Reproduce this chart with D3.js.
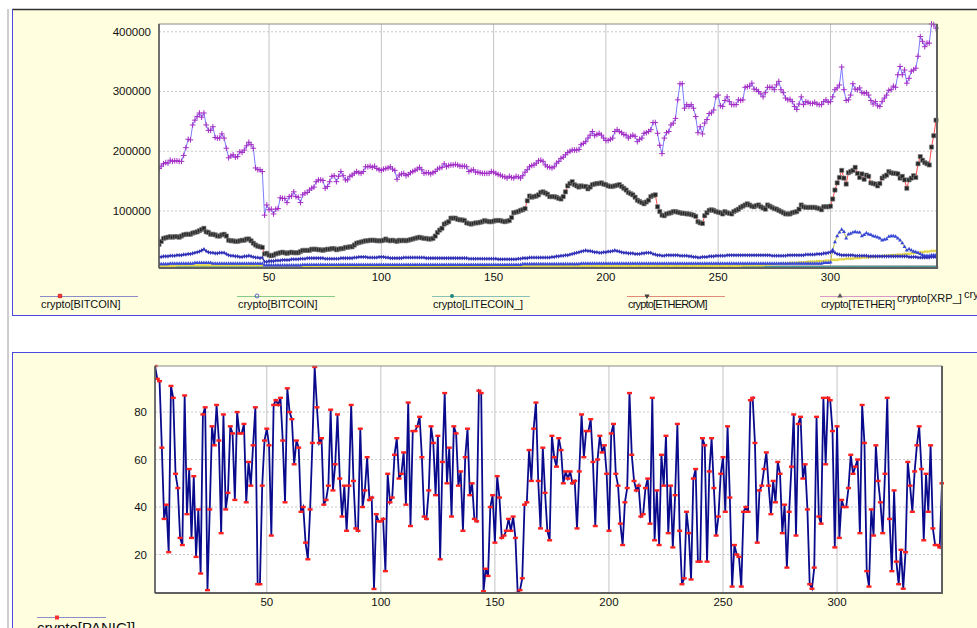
<!DOCTYPE html>
<html>
<head>
<meta charset="utf-8">
<script src="https://cdn.jsdelivr.net/npm/d3@7"></script>
<style>
  body { margin: 0; background: #ffffff; }
  svg { display: block; font-family: "Liberation Sans", Arial, sans-serif; }
</style>
</head>
<body>
<svg id="chart" width="977" height="628"></svg>
<script>
// ---- tick labels -------------------------------------------------------
const xTicks = [50, 100, 150, 200, 250, 300];
const priceTicks = [100000, 200000, 300000, 400000];
const panicTicks = [20, 40, 60, 80];

// ---- legend entries ----------------------------------------------------
const priceLegend = ["crypto[BITCOIN]", "crypto[BITCOIN]", "crypto[LITECOIN_]", "crypto[ETHEROM]", "crypto[TETHER]"];
const priceLegendExtra = ["crypto[XRP_]", "crypto[XRP_]"];
const panicLegend = "crypto[PANIC]]";

// ---- price series (thousands) -----------------------------------------
const bitcoinHigh = [
  171,175,179,181,180,185,183,184,184,183, 183,193,206,220,219,244,252,258,264,257,
  264,244,235,235,241,223,222,222,229,222, 205,189,192,194,190,191,199,198,202,209,
  215,211,205,172,169,169,166,93,110,102, 103,95,103,104,122,121,121,114,124,125,
  132,124,123,114,127,130,131,135,138,140, 149,152,152,151,138,141,149,158,159,149,
  158,166,159,152,152,158,160,163,166,164, 163,166,174,174,175,173,175,171,169,168,
  170,171,172,174,170,168,153,160,162,163, 159,161,164,166,168,170,173,169,163,164,
  164,162,164,166,170,172,173,179,174,176, 177,177,178,177,175,175,175,174,166,168,
  169,165,165,164,163,163,163,163,166,165, 163,161,160,158,157,155,158,156,155,158,
  157,155,159,165,169,174,176,177,180,184, 185,183,177,174,173,172,174,180,183,188,
  190,194,198,200,202,202,202,203,211,213, 216,222,227,233,226,228,230,227,222,218,
  218,220,222,233,236,233,231,228,227,222, 225,227,225,216,220,222,230,231,233,236,
  248,248,230,210,196,222,231,233,244,247, 255,286,313,313,272,278,275,278,272,258,
  231,241,229,247,253,263,264,269,291,294, 276,275,285,291,283,278,278,278,286,285,
  286,307,308,309,314,304,303,300,296,291, 298,307,307,307,303,311,317,303,298,289,
  286,287,283,275,270,279,291,278,283,282, 280,280,282,279,278,278,283,286,282,283,
  291,303,306,311,341,303,285,286,294,313, 304,303,306,298,297,298,294,285,279,283,
  276,275,283,289,294,302,303,309,307,328, 342,328,336,314,322,334,336,339,359,392,
  384,375,381,381,413,412,406
];
const bitcoinLow = [
  44,49,54,55,56,57,56,57,57,56, 58,60,61,61,61,63,64,65,67,69,
  71,65,64,61,61,60,58,58,60,61, 58,51,50,50,49,49,50,51,51,53,
  53,50,46,43,41,40,39,28,29,26, 25,26,28,29,30,31,30,29,30,31,
  30,30,30,32,34,34,34,34,36,36, 36,35,35,34,35,36,36,37,37,35,
  36,37,37,39,39,40,40,43,46,47, 48,49,50,50,51,51,51,50,50,50,
  51,53,51,50,51,50,49,51,50,51, 50,51,52,53,54,55,56,55,54,54,
  53,53,54,58,64,68,71,78,80,82, 88,88,88,86,85,85,84,80,79,78,
  79,80,80,81,82,84,83,82,82,83, 84,84,84,83,82,83,84,89,97,98,
  99,101,102,104,117,125,123,124,125,127, 131,132,130,128,124,124,124,123,121,120,
  124,132,142,146,149,144,142,140,142,141, 141,137,140,144,145,146,146,147,145,144,
  142,141,141,142,143,144,141,138,135,131, 129,127,123,118,116,114,112,115,118,124,
  126,127,107,99,93,92,95,96,97,99, 99,98,97,96,96,95,95,94,93,91,
  82,80,79,92,97,101,102,101,99,98, 97,95,99,97,96,95,99,101,103,106,
  108,110,112,110,108,107,109,110,107,105, 103,110,108,106,104,103,101,99,97,95,
  95,95,97,98,99,103,110,107,106,106, 106,106,106,105,104,102,107,107,107,108,
  120,135,147,156,168,155,145,164,166,168, 173,163,156,162,153,160,158,147,146,145,
  142,146,155,158,160,166,164,163,163,162, 155,158,152,138,152,155,159,156,179,191,
  185,181,179,177,207,226,252
];
const litecoin = [
  23,23,24,24,24,25,25,25,26,26, 26,27,27,28,28,29,30,31,32,34,
  36,33,31,30,30,29,29,30,30,30, 28,26,25,25,24,24,23,23,24,24,
  25,24,23,22,22,21,22,15,15,16, 16,16,17,17,17,18,18,18,18,19,
  19,19,19,20,20,20,21,21,21,21, 21,21,21,21,20,20,20,20,20,20,
  20,21,21,21,21,21,21,22,22,23, 23,23,23,22,22,22,22,22,23,23,
  23,22,22,21,21,21,21,21,21,22, 22,22,22,22,22,22,22,22,22,21,
  21,21,21,21,21,21,21,21,21,21, 21,21,21,21,21,21,21,21,20,20,
  20,20,20,20,20,20,20,20,20,20, 20,19,19,19,19,19,19,19,19,19,
  20,20,21,21,21,22,22,22,22,22, 22,22,22,22,22,23,23,24,24,25,
  25,26,26,27,28,29,30,31,32,33, 34,33,33,32,31,31,30,30,31,31,
  32,32,33,34,33,32,31,30,30,29, 29,29,28,28,28,29,29,30,30,30,
  28,27,26,26,25,25,26,26,26,26, 26,26,25,25,25,25,24,24,23,23,
  22,22,23,23,23,24,24,24,25,25, 25,25,25,26,26,26,26,26,26,26,
  26,26,26,26,26,26,26,26,26,26, 26,26,26,25,25,25,25,25,25,25,
  26,26,26,26,26,26,26,26,27,27, 27,27,27,28,28,28,29,29,30,31,
  32,30,28,27,26,26,26,26,26,26, 25,25,25,25,25,25,24,24,24,24,
  24,24,24,24,24,24,24,24,24,24, 24,24,24,24,23,23,23,23,22,22,
  22,22,22,22,23,23,23
];
const tether = [
  11,11,11,11,11,12,12,12,12,12, 12,12,12,12,12,12,13,13,13,13,
  13,13,13,13,12,12,12,12,12,12, 12,12,12,12,12,12,12,12,12,12,
  12,12,12,12,12,12,12,9,9,9, 9,9,9,9,9,9,9,9,9,9,
  9,9,9,9,10,10,10,10,10,10, 10,10,10,10,10,10,10,10,10,10,
  10,10,10,10,10,10,10,10,10,10, 10,10,10,10,10,10,10,10,10,10,
  10,10,10,10,10,10,10,10,10,10, 10,10,10,10,10,10,10,10,10,10,
  10,10,10,10,10,10,10,10,10,10, 10,10,10,10,10,10,10,10,10,10,
  10,10,10,10,10,10,10,10,10,10, 10,10,10,10,10,10,10,10,10,10,
  10,10,11,11,11,11,11,11,11,11, 11,11,11,11,11,11,11,11,11,11,
  11,11,11,11,11,11,11,11,12,12, 12,12,12,12,12,12,12,12,12,12,
  12,12,12,12,12,12,12,12,12,12, 12,12,12,12,12,12,12,12,12,12,
  12,12,12,12,12,12,12,12,12,12, 12,12,12,12,12,12,12,12,12,12,
  12,12,12,12,12,12,12,12,12,12, 12,12,12,12,12,12,12,12,12,12,
  12,12,12,12,12,12,12,12,12,12, 12,12,12,12,12,12,12,12,12,12,
  12,12,12,12,12,12,12,12,12,12, 12,12,12,12,12,12,13,13,13,14,
  35,48,58,64,69,65,54,61,62,64, 65,64,64,58,60,63,61,60,58,57,
  56,54,51,52,53,57,58,58,57,54, 51,46,40,34,36,34,32,31,30,28,
  26,25,25,25,26,26,26
];
const xrp = [
  8,8,8,8,8,8,8,8,9,9, 9,9,9,9,9,9,9,9,9,9,
  9,9,9,9,9,9,9,9,9,9, 9,9,9,9,9,9,9,9,9,9,
  9,9,9,9,9,9,9,7,7,7, 7,7,7,7,7,7,7,7,7,7,
  7,7,7,7,7,7,7,7,7,7, 7,7,7,7,7,7,7,7,7,7,
  7,7,7,7,7,7,7,7,7,7, 7,7,7,7,7,7,7,7,7,7,
  7,7,7,7,7,7,7,7,7,7, 7,7,7,7,7,7,7,7,7,7,
  7,7,7,7,7,7,7,7,7,7, 7,7,7,7,7,7,7,7,7,7,
  7,7,7,7,7,7,7,7,7,7, 7,7,7,7,7,7,7,7,7,7,
  7,7,7,7,7,7,7,7,7,7, 7,7,7,7,7,7,7,7,8,8,
  8,8,8,8,8,8,8,8,8,8, 8,8,8,8,8,8,8,8,8,8,
  8,8,8,8,8,8,8,8,8,8, 8,8,8,8,8,8,8,8,8,8,
  8,8,8,8,8,8,8,8,8,8, 8,8,8,8,8,8,8,8,8,8,
  8,8,8,8,8,8,8,8,8,8, 8,8,8,8,8,8,8,8,8,8,
  9,9,9,9,9,9,9,9,9,9, 10,10,10,11,11,11,11,12,12,12,
  12,13,13,13,13,14,14,14,14,15, 15,15,15,16,16,16,16,17,17,17,
  18,18,18,19,19,19,20,20,20,20, 21,21,21,22,22,22,22,23,23,23,
  24,24,24,25,25,25,26,26,26,27, 27,27,28,28,28,29,29,30,30,31,
  31,32,32,32,33,33,33
];
const etherom = [
  6,6,6,6,6,6,6,6,6,6, 6,6,6,6,6,6,6,6,6,6,
  6,6,6,6,6,6,6,6,6,6, 6,6,6,6,6,6,6,6,6,6,
  6,6,6,6,6,6,6,6,6,6, 6,6,6,6,6,6,6,6,6,6,
  6,6,6,6,6,6,6,6,6,6, 6,6,6,6,6,6,6,6,6,6,
  6,6,6,6,6,6,6,6,6,6, 6,6,6,6,6,6,6,6,6,6,
  6,6,6,6,6,6,6,6,6,6, 6,6,6,6,6,6,6,6,6,6,
  6,6,6,6,6,6,6,6,6,6, 6,6,6,6,6,6,6,6,6,6,
  6,6,6,6,6,6,6,6,6,6, 6,6,6,6,6,6,6,6,6,6,
  6,6,6,6,6,6,6,6,6,6, 6,6,6,6,6,6,6,6,6,6,
  6,6,6,6,6,6,6,6,6,6, 6,6,6,6,6,6,6,6,6,6,
  6,6,6,6,6,6,6,6,6,6, 6,6,6,6,6,6,6,6,6,6,
  6,6,6,6,6,6,6,6,6,6, 6,6,6,6,6,6,6,6,6,6,
  6,6,6,6,6,6,6,6,6,6, 6,6,6,6,6,6,6,6,6,6,
  6,6,6,6,6,6,6,6,6,6, 6,6,6,6,6,6,6,6,6,6,
  6,6,6,6,6,6,6,6,6,6, 6,6,6,6,6,6,6,6,6,6,
  6,6,6,6,6,6,6,6,6,6, 6,6,6,6,6,6,6,6,6,6,
  6,6,6,6,6,6,6,6,6,6, 6,6,6,6,6,6,6,6,6,6,
  6,6,6,6,6,6,6
];
const panicPrice = [
  5,5,5,5,5,5,5,5,5,5, 5,5,5,5,5,5,5,5,5,5,
  5,5,5,5,5,5,5,5,5,5, 5,5,5,5,5,5,5,5,5,5,
  5,5,5,5,5,5,5,5,5,5, 5,5,5,5,5,5,5,5,5,5,
  5,5,5,5,5,5,5,5,5,5, 5,5,5,5,5,5,5,5,5,5,
  5,5,5,5,5,5,5,5,5,5, 5,5,5,5,5,5,5,5,5,5,
  5,5,5,5,5,5,5,5,5,5, 5,5,5,5,5,5,5,5,5,5,
  5,5,5,5,5,5,5,5,5,5, 5,5,5,5,5,5,5,5,5,5,
  5,5,5,5,5,5,5,5,5,5, 5,5,5,5,5,5,5,5,5,5,
  5,5,5,5,5,5,5,5,5,5, 5,5,5,5,5,5,5,5,5,5,
  5,5,5,5,5,5,5,5,5,5, 5,5,5,5,5,5,5,5,5,5,
  5,5,5,5,5,5,5,5,5,5, 5,5,5,5,5,5,5,5,5,5,
  5,5,5,5,5,5,5,5,5,5, 5,5,5,5,5,5,5,5,5,5,
  5,5,5,5,5,5,5,5,5,5, 5,5,5,5,5,5,5,5,5,5,
  5,5,5,5,5,5,5,5,5,5, 5,5,5,5,5,5,5,5,5,5,
  5,5,5,5,5,5,5,5,5,5, 5,5,5,5,5,5,5,5,5,5,
  5,5,5,5,5,5,5,5,5,5, 5,5,5,5,5,5,5,5,5,5,
  5,5,5,5,5,5,5,5,5,5, 5,5,5,5,5,5,5,5,5,5,
  5,5,5,5,5,5,5
];

// ---- panic index -------------------------------------------------------
const panic = [
  99.4,94,93,65,35,41,21,91,86,54, 48,27,24,87,37,56,27,53,19,39,
  12,79,82,5,39,74,66,83,68,29, 79,39,46,74,71,43,80,71,71,75,
  42,59,49,66,82,7.5,7.5,49,68,73, 66,28,83,85,83,86,68,42,90,80,
  77,58,68,65,38,40,25,18,39,67, 99,82,67,69,41,43,49,81,47,58,
  79,52,36,49,30,49,83,51,31,30, 73,40,47,61,43,44,5.5,37,34,34,
  35,13,54,42,44,62,69,52,54,63, 41,84,32,72,72,74,78,61,36,35,
  47,74,67,45,70,18,59,88,50,65, 36,74,71,49,55,30,61,73,45,50,
  35,34,89,88,4.5,14,11,40,45,25, 53,44,27,28,30,35,30,36,27,3.8,
  5,10,41,42,64,51,73,84,51,31, 65,46,30,26,70,61,57,69,64,50,
  55,52,55,50,51,31,55,79,61,72, 72,77,59,32,60,70,63,66,54,30,
  71,75,54,49,33,24,42,48,88,62, 51,47,49,36,37,48,52,33,86,26,
  47,24,62,49,70,29,49,23,45,75, 30,7.5,10,38,29,9.5,52,56,17,17,
  69,66,17,55,69,48,28,36,54,61, 38,74,44,6.5,24,20,19,6.5,38,40,
  38,85,86,67,25,47,49,56,63,49, 37,51,42,59,54,29,41,14.5,38,57,
  79,28,75,78,52,58,39,7.5,5.6,14.5, 78,36,33,86,58,86,85,72,23,74,
  27,43,40,40,48,62,54,57,60,29, 83,67,13,6.5,39,28,66,51,42,29,
  54,86,35,13,47,17,7.5,22,5.6,21, 59,49,38,55,66,74,56,26,54,38,
  66,31,24,24,23,50
];

// ---- drawing -----------------------------------------------------------
const svg = d3.select("#chart");
const PANEL_BG = "#ffffe0";

// panel backgrounds and frames
svg.append("rect").attr("x", 12).attr("y", 9).attr("width", 965).attr("height", 306).attr("fill", PANEL_BG);
svg.append("rect").attr("x", 12).attr("y", 352).attr("width", 965).attr("height", 276).attr("fill", PANEL_BG);
svg.append("line").attr("x1", 8).attr("x2", 8).attr("y1", 9).attr("y2", 628).attr("stroke", "#9a9a9a").attr("stroke-width", 1);
svg.append("line").attr("x1", 12).attr("x2", 977).attr("y1", 9.5).attr("y2", 9.5).attr("stroke", "#303030").attr("stroke-width", 1.5);
svg.append("line").attr("x1", 12.5).attr("x2", 12.5).attr("y1", 9).attr("y2", 315).attr("stroke", "#4a4adf").attr("stroke-width", 1);
svg.append("line").attr("x1", 12).attr("x2", 977).attr("y1", 315.5).attr("y2", 315.5).attr("stroke", "#4a4adf").attr("stroke-width", 1);
svg.append("line").attr("x1", 12).attr("x2", 977).attr("y1", 352.5).attr("y2", 352.5).attr("stroke", "#4a4adf").attr("stroke-width", 1);
svg.append("line").attr("x1", 12.5).attr("x2", 12.5).attr("y1", 352).attr("y2", 628).attr("stroke", "#4a4adf").attr("stroke-width", 1);

function plotFrame(g, x0, y0, x1, y1, xs, ys, yTickVals, yFmt, clipId) {
  g.append("rect").attr("x", x0).attr("y", y0).attr("width", x1 - x0).attr("height", y1 - y0).attr("fill", "#ffffff");
  g.selectAll(".vgrid").data(xTicks).join("line")
    .attr("x1", d => xs(d)).attr("x2", d => xs(d)).attr("y1", y0).attr("y2", y1)
    .attr("stroke", "#c4c4c4").attr("stroke-width", 1);
  g.selectAll(".hgrid").data(yTickVals).join("line")
    .attr("x1", x0).attr("x2", x1).attr("y1", d => ys(d)).attr("y2", d => ys(d))
    .attr("stroke", "#c8c8c8").attr("stroke-width", 1).attr("stroke-dasharray", "2,2");
  g.selectAll(".ylab").data(yTickVals).join("text")
    .attr("x", x0 - 8).attr("y", d => ys(d) + 4).attr("text-anchor", "end")
    .attr("font-size", 11.5).attr("fill", "#111").text(yFmt);
  g.selectAll(".xlab").data(xTicks).join("text")
    .attr("x", d => xs(d)).attr("y", y1 + 13).attr("text-anchor", "middle")
    .attr("font-size", 11.5).attr("fill", "#111").text(d => d);
  g.append("clipPath").attr("id", clipId).append("rect")
    .attr("x", x0).attr("y", y0 - 3).attr("width", x1 - x0 + 2).attr("height", y1 - y0 + 3);
}
function plotBorder(g, x0, y0, x1, y1) {
  g.append("rect").attr("x", x0).attr("y", y0).attr("width", x1 - x0).attr("height", y1 - y0)
    .attr("fill", "none").attr("stroke", "#8a8a8a").attr("stroke-width", 1);
  g.append("path").attr("d", `M${x1},${y0}V${y1}H${x0}`).attr("fill", "none")
    .attr("stroke", "#606060").attr("stroke-width", 2);
  g.append("line").attr("x1", x0).attr("x2", x0).attr("y1", y0).attr("y2", y1)
    .attr("stroke", "#555").attr("stroke-width", 1.5);
}

// ---- price panel -------------------------------------------------------
const pricePanel = svg.append("g");
const xTop = d3.scaleLinear().domain([1, bitcoinHigh.length]).range([159, 936]);
const yTop = d3.scaleLinear().domain([4500, 413000]).range([268, 24]);
plotFrame(pricePanel, 159, 24, 937, 268, xTop, yTop, priceTicks, d => d3.format("d")(d), "clipTop");

// filled markers use the fill colour; the plus marker is stroked
const priceSeries = [
  { values: panicPrice, line: "#a8acb0", marker: d3.symbolCircle, size: 14, fill: "#b4b4b4", stroke: "#8c8c8c", width: 1.5 },
  { values: etherom, line: "#2aa0a0", marker: d3.symbolSquare, size: 3, fill: "#2a9a9a", stroke: "none", width: 1 },
  { values: xrp, line: "#3a3ad0", marker: d3.symbolCircle, size: 6, fill: "#e4d84a", stroke: "none", width: 1 },
  { values: tether, line: "#b8b850", marker: d3.symbolTriangle, size: 7, fill: "#3848d8", stroke: "none", width: 1 },
  { values: litecoin, line: "#1c1c9c", marker: d3.symbolDiamond, size: 6, fill: "#3030b8", stroke: "none", width: 1.2 },
  { values: bitcoinLow, line: "#ff4a4a", marker: d3.symbolSquare, size: 18, fill: "#262626", stroke: "#888", width: 1 },
  { values: bitcoinHigh, line: "#7c7cff", marker: d3.symbolPlus, size: 12, fill: "none", stroke: "#a42cc4", width: 1, plus: true }
];
const plotTop = pricePanel.append("g").attr("clip-path", "url(#clipTop)");
priceSeries.forEach(s => {
  const pts = s.values.map((v, i) => [i + 1, v * 1000]);
  plotTop.append("path").datum(pts)
    .attr("d", d3.line().x(d => xTop(d[0])).y(d => yTop(d[1])))
    .attr("fill", "none").attr("stroke", s.line).attr("stroke-width", s.width);
  plotTop.append("g").selectAll("path").data(pts).join("path")
    .attr("transform", d => `translate(${xTop(d[0])},${yTop(d[1])})`)
    .attr("d", d3.symbol(s.marker, s.size))
    .attr("fill", s.fill).attr("stroke", s.stroke).attr("stroke-width", s.plus ? 1 : 0.6);
});
plotBorder(pricePanel, 159, 24, 937, 268);

// price legend
const legendColors = [
  { line: "#8c8cc8", marker: d3.symbolSquare, fill: "#ff3030", stroke: "#c02020" },
  { line: "#88c888", marker: d3.symbolCircle, fill: "none", stroke: "#3040c0" },
  { line: "#88c0b8", marker: d3.symbolCircle, fill: "#208080", stroke: "none" },
  { line: "#e08a7a", marker: d3.symbolTriangle, fill: "#404040", stroke: "none", rot: 180 },
  { line: "#d898c8", marker: d3.symbolTriangle, fill: "#555", stroke: "none" }
];
const legX = [40, 237, 432, 627, 820];
const leg = svg.append("g");
priceLegend.forEach((name, i) => {
  const x = legX[i], c = legendColors[i];
  leg.append("line").attr("x1", x).attr("x2", x + 98).attr("y1", 296.5).attr("y2", 296.5)
    .attr("stroke", c.line).attr("stroke-width", 1.2);
  leg.append("path").attr("transform", `translate(${x + 20},296) rotate(${c.rot || 0})`)
    .attr("d", d3.symbol(c.marker, 12)).attr("fill", c.fill).attr("stroke", c.stroke).attr("stroke-width", 0.8);
  leg.append("text").attr("x", x + 1).attr("y", 308).attr("font-size", 11).attr("fill", "#111")
    .attr("textLength", name.length * 5.3).text(name);
});
leg.append("text").attr("x", 897).attr("y", 302).attr("font-size", 11).attr("fill", "#111").text(priceLegendExtra[0]);
leg.append("text").attr("x", 964).attr("y", 298).attr("font-size", 11).attr("fill", "#111").text(priceLegendExtra[1]);

// ---- panic panel -------------------------------------------------------
const panicPanel = svg.append("g");
const xBot = d3.scaleLinear().domain([1, panic.length]).range([155, 942]);
const yBot = d3.scaleLinear().domain(d3.extent(panic)).range([593, 366]);
plotFrame(panicPanel, 155, 366, 942, 593, xBot, yBot, panicTicks, d => d, "clipBot");
const plotBot = panicPanel.append("g").attr("clip-path", "url(#clipBot)");
const panicPts = panic.map((v, i) => [i + 1, v]);
plotBot.append("path").datum(panicPts)
  .attr("d", d3.line().x(d => xBot(d[0])).y(d => yBot(d[1])))
  .attr("fill", "none").attr("stroke", "#0a0a8c").attr("stroke-width", 1.8);
plotBot.append("g").selectAll("rect").data(panicPts).join("rect")
  .attr("x", d => xBot(d[0]) - 2.5).attr("y", d => yBot(d[1]) - 1.2)
  .attr("width", 5).attr("height", 2.4).attr("fill", "#ff2020");
plotBorder(panicPanel, 155, 366, 942, 593);

// panic legend
svg.append("line").attr("x1", 37).attr("x2", 106).attr("y1", 617.5).attr("y2", 617.5)
  .attr("stroke", "#8c8cc8").attr("stroke-width", 1.2);
svg.append("rect").attr("x", 55).attr("y", 615.5).attr("width", 4).attr("height", 4).attr("fill", "#ff3030");
svg.append("text").attr("x", 37).attr("y", 633).attr("font-size", 15).attr("fill", "#111").text(panicLegend);
</script>
</body>
</html>
